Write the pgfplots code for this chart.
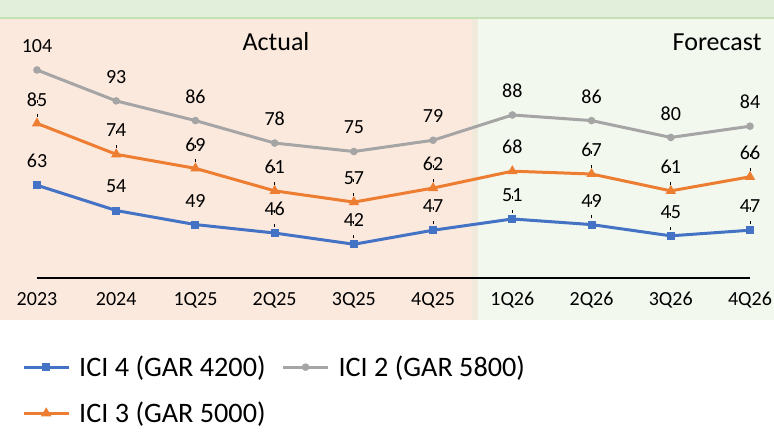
\documentclass[border=0pt]{standalone}
\usepackage{pgfplots}
\pgfplotsset{compat=1.18}
\usepackage{pgfplotstable}
\usepackage{fontspec}
\setmainfont{Carlito}

\definecolor{iciblue}{HTML}{4472C4}
\definecolor{iciorange}{HTML}{ED7D31}
\definecolor{icigray}{HTML}{A5A5A5}
\definecolor{actualbg}{HTML}{FCE9DE}
\definecolor{forecastbg}{HTML}{F2F8EE}
\definecolor{topband}{HTML}{E2EFDA}
\definecolor{topline}{HTML}{C5E0B4}
\definecolor{sepband}{HTML}{EFEADC}

% x index, price, leader line flag
\pgfplotstableread{
x y lead
0 63 0
1 54 0
2 49 0
3 46 1
4 42 1
5 47 1
6 51 1
7 49 1
8 45 1
9 47 1
}\iciFour
\pgfplotstableread{
x y lead
0 85 1
1 74 1
2 69 1
3 61 1
4 57 1
5 62 1
6 68 0
7 67 1
8 61 1
9 66 1
}\iciThree
\pgfplotstableread{
x y lead
0 104 0
1 93 0
2 86 0
3 78 0
4 75 0
5 79 0
6 88 0
7 86 0
8 80 0
9 84 0
}\iciTwo

\newcommand{\leader}{\vbox{\hbox{\rule{0.9bp}{3bp}}\vskip2bp\hbox{\rule{0.9bp}{3bp}}}}

\begin{document}
\begin{tikzpicture}
\useasboundingbox (0,0) rectangle (774bp,445bp);
% backgrounds
\fill[white] (0,0) rectangle (774bp,445bp);
\fill[actualbg] (0,125bp) rectangle (472bp,427bp);
\fill[sepband] (472bp,125bp) rectangle (478bp,427bp);
\fill[forecastbg] (478bp,125bp) rectangle (774bp,427bp);
\fill[topband] (0,427bp) rectangle (774bp,445bp);
\draw[topline, line width=2bp] (0,427bp) -- (774bp,427bp);
\node[font=\fontsize{26bp}{30bp}\selectfont] at (276bp,403bp) {Actual};
\node[font=\fontsize{26bp}{30bp}\selectfont, anchor=east] at (765bp,403bp) {Forecast};

\begin{axis}[
  at={(37bp,167bp)}, anchor=south west,
  width=713bp, height=253bp, scale only axis,
  xmin=0, xmax=9, ymin=30, ymax=120,
  enlarge x limits=false,
  axis x line*=bottom, axis y line=none,
  axis line style={-, black, line width=1.5bp},
  xtick=data,
  xticklabels={2023,2024,1Q25,2Q25,3Q25,4Q25,1Q26,2Q26,3Q26,4Q26},
  xtick style={draw=none},
  xticklabel style={font=\fontsize{20bp}{24bp}\selectfont, anchor=base, inner sep=0pt, yshift=-27bp},
  ytick=\empty,
  clip=false,
  /pgf/number format/assume math mode=true,
  every node near coord/.style={anchor=center, yshift=24bp, text=black, inner sep=0pt,
    font=\fontsize{20bp}{24bp}\selectfont},
  legend columns=2,
  legend style={at={(axis description cs:-0.021,-0.30)}, anchor=north west, draw=none, fill=none,
    inner sep=0pt, font=\fontsize{28.2bp}{32bp}\selectfont, row sep=20bp,
    /tikz/every odd column/.append style={column sep=7bp},
    /tikz/every even column/.append style={column sep=14bp}},
  legend cell align=left,
  legend image code/.code={\draw[mark repeat=2, mark phase=2] plot coordinates {(0bp,0bp) (22.5bp,0bp) (45bp,0bp)};},
]
\addplot[iciblue, line width=3bp, mark=square*, mark size=2.5bp, mark options={solid},
  nodes near coords] table[x=x, y=y] {\iciFour};
\addlegendentry{ICI 4 (GAR 4200)}
\addplot[icigray, line width=3bp, mark=*, mark size=2.2bp, mark options={solid},
  nodes near coords] table[x=x, y=y] {\iciTwo};
\addlegendentry{ICI 2 (GAR 5800)}
\addplot[iciorange, line width=3bp, mark=triangle*, mark size=3bp, mark options={solid},
  nodes near coords] table[x=x, y=y] {\iciThree};
\addlegendentry{ICI 3 (GAR 5000)}
% dashed leader lines under moved labels
\addplot[draw=none, mark=none, forget plot, nodes near coords={\leader},
  every node near coord/.style={anchor=south, yshift=6bp, inner sep=0pt, text=black}]
  table[x=x, y expr={\thisrow{lead}==1 ? \thisrow{y} : nan}] {\iciFour};
\addplot[draw=none, mark=none, forget plot, nodes near coords={\leader},
  every node near coord/.style={anchor=south, yshift=6bp, inner sep=0pt, text=black}]
  table[x=x, y expr={\thisrow{lead}==1 ? \thisrow{y} : nan}] {\iciThree};
\end{axis}
\end{tikzpicture}
\end{document}
